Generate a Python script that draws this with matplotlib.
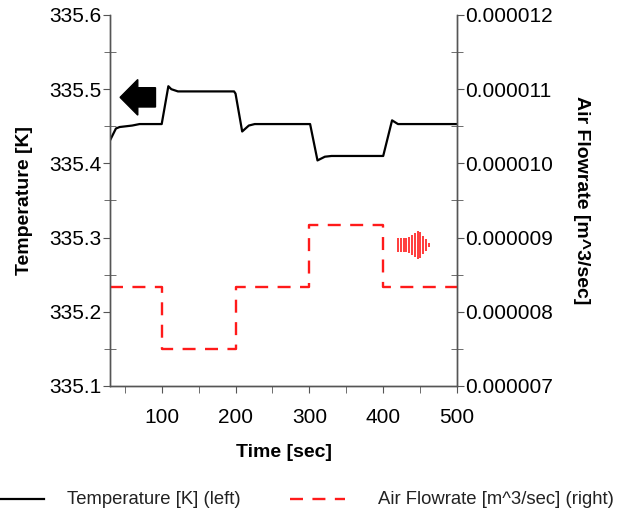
import matplotlib
matplotlib.use("Agg")
import matplotlib.pyplot as plt
from matplotlib.patches import Polygon
from matplotlib.ticker import MultipleLocator, FormatStrFormatter
from matplotlib.lines import Line2D

plt.rcParams['font.family'] = ['Liberation Sans', 'DejaVu Sans']

# temperature response [K]
temp_time = [30, 38, 43, 60, 70, 100, 109, 113, 122, 198, 200, 209, 218, 226,
             301, 311, 321, 330, 400, 412, 420, 500]
temp_vals = [335.431, 335.447, 335.449, 335.451, 335.453, 335.453, 335.504, 335.500,
             335.497, 335.497, 335.494, 335.443, 335.451, 335.453, 335.453, 335.404,
             335.409, 335.410, 335.410, 335.458, 335.453, 335.453]

# air flowrate steps [m^3/sec]
flow_time = [30, 100, 200, 300, 400, 500]
flow_vals = [8.333e-6, 7.5e-6, 8.333e-6, 9.167e-6, 8.333e-6, 8.333e-6]

legend_labels = ['Temperature [K] (left)', 'Air Flowrate [m^3/sec] (right)']

red = '#ff1a1a'
spine_col = '#555555'

fig = plt.figure(figsize=(6.23, 5.15), dpi=100)
ax = fig.add_axes([0.1766, 0.2505, 0.557, 0.7204])
ax2 = ax.twinx()

for a in (ax, ax2):
    a.spines['top'].set_visible(False)
    for s in ('left', 'right', 'bottom'):
        a.spines[s].set_color(spine_col)
        a.spines[s].set_linewidth(1.0)
    a.tick_params(which='both', colors=spine_col, labelcolor='black', labelsize=15,
                  length=5, pad=1)
    a.tick_params(axis='y', which='minor', direction='inout', length=8)
ax.tick_params(axis='x', which='both', pad=11)

ax.plot(temp_time, temp_vals, color='black', lw=1.6)
ax.set_xlim(30, 500)
ax.set_ylim(335.1, 335.6)
ax.yaxis.set_major_locator(MultipleLocator(0.1))
ax.yaxis.set_minor_locator(MultipleLocator(0.05))
ax.yaxis.set_major_formatter(FormatStrFormatter('%.1f'))
ax.xaxis.set_major_locator(MultipleLocator(100))
ax.xaxis.set_minor_locator(MultipleLocator(50))
ax.set_xlabel('Time [sec]', fontsize=14, fontweight='bold', labelpad=12)
ax.set_ylabel('Temperature [K]', fontsize=14, fontweight='bold', labelpad=12)

fl, = ax2.plot(flow_time, flow_vals, color=red, lw=1.7, drawstyle='steps-post')
fl.set_dashes((5.5, 4))
ax2.set_ylim(7e-6, 12e-6)
ax2.yaxis.set_major_locator(MultipleLocator(1e-6))
ax2.yaxis.set_minor_locator(MultipleLocator(0.5e-6))
ax2.yaxis.set_major_formatter(FormatStrFormatter('%.6f'))
ax2.set_ylabel('Air Flowrate [m^3/sec]', fontsize=14, fontweight='bold',
               rotation=-90, labelpad=14, va='bottom')

# black arrow pointing to left axis
blk = Polygon([(0.029, 0.778), (0.080, 0.826), (0.080, 0.804), (0.131, 0.804),
               (0.131, 0.752), (0.080, 0.752), (0.080, 0.730)],
              closed=True, transform=ax.transAxes, color='black', zorder=5)
ax.add_patch(blk)

# red striped arrow pointing to right axis
x0, x1, x2 = 0.83, 0.89, 0.924
yc = 0.38
step = 2.8 / 347
xs = x0
while xs < x2:
    if xs < x1 - 0.03:
        h = 0.019
    elif xs <= x1:
        h = 0.019 + (0.039 - 0.019) * (xs - (x1 - 0.03)) / 0.03
    else:
        h = 0.039 * (x2 - xs) / (x2 - x1)
    ax.plot([xs, xs], [yc - h, yc + h], color=red, lw=1.2,
            transform=ax.transAxes, solid_capstyle='butt')
    xs += step

# legend drawn below the plot
ly = (515 - 499) / 515
fig.add_artist(Line2D([0, 44 / 623], [ly, ly], color='black', lw=1.6,
                      transform=fig.transFigure))
fig.text(67 / 623, ly, legend_labels[0], fontsize=13.3, color='#222222', va='center')
fig.add_artist(Line2D([290 / 623, 345 / 623], [ly, ly], color=red, lw=1.7,
                      dashes=(5.5, 4), transform=fig.transFigure))
fig.text(378 / 623, ly, legend_labels[1], fontsize=13.3, color='#222222', va='center')

fig.savefig('out.png', dpi=100)
